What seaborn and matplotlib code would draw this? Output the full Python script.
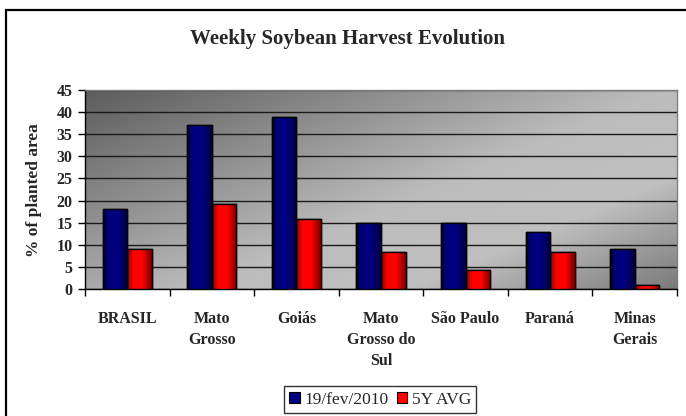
import numpy as np
import pandas as pd
import matplotlib
matplotlib.use("Agg")
import matplotlib.pyplot as plt
import seaborn as sns
from matplotlib.patches import Rectangle

categories = ["BRASIL", "Mato\nGrosso", "Goiás", "Mato\nGrosso do\nSul", "São Paulo", "Paraná", "Minas\nGerais"]
series_names = ["19/fev/2010", "5Y AVG"]
current = [18, 37, 39, 15, 15, 13, 9]
avg5y = [9, 19.2, 15.8, 8.3, 4.2, 8.3, 0.8]
yticks = [0, 5, 10, 15, 20, 25, 30, 35, 40, 45]

df = pd.DataFrame({
    "region": categories * 2,
    "series": [series_names[0]] * len(categories) + [series_names[1]] * len(categories),
    "value": current + avg5y,
})

sns.set_theme(style="white")
plt.rcParams["font.family"] = ["Liberation Serif", "DejaVu Serif"]
plt.rcParams["font.weight"] = "bold"

fig = plt.figure(figsize=(6.86, 4.16), dpi=100)
ax = fig.add_axes([85 / 686, 1 - 289 / 416, (677 - 85) / 686, (289 - 90) / 416])

# outer chart border (only left/top visible in frame)
fig.patches.append(Rectangle((6 / 686, -0.1), 1.2, 1.1 - 10 / 416,
                             transform=fig.transFigure, fill=False,
                             edgecolor="black", linewidth=1.6, zorder=0))

# gradient background of plot area
n = 200
xx, yy = np.meshgrid(np.linspace(0, 1, n), np.linspace(1, 0, n))
t = (xx * 1.0 + (1 - yy) * 0.8) / 1.8
vals = np.interp(t, [0, 0.55, 0.75, 1.0], [0.36, 0.74, 0.75, 0.48])
rgb = np.dstack([vals, vals, vals])
ax.imshow(rgb, extent=[0, 1, 0, 1], transform=ax.transAxes, aspect="auto", zorder=0)

palette = {series_names[0]: "#000080", series_names[1]: "#ff0000"}
sns.barplot(data=df, x="region", y="value", hue="series", palette=palette,
            width=0.58, edgecolor="black", linewidth=1.0, saturation=1,
            ax=ax, zorder=3, legend=True)

# horizontal shading of bars
prof_x = np.linspace(0, 1, 64)
shade = np.interp(prof_x, [0, 0.25, 0.6, 1.0], [0.55, 1.0, 1.0, 0.45])
for cont, base in zip(ax.containers, ["#000080", "#ff0000"]):
    c = np.array(matplotlib.colors.to_rgb(base))
    img = (shade[None, :, None] * c[None, None, :])
    for p in cont.patches:
        x0, y0 = p.get_x(), p.get_y()
        w, h = p.get_width(), p.get_height()
        if h <= 0:
            continue
        im = ax.imshow(img, extent=[x0, x0 + w, y0, y0 + h], aspect="auto", zorder=3.5)
        im.set_clip_path(p)
        ax.add_patch(Rectangle((x0, y0), w, h, fill=False, edgecolor="black", linewidth=1.0, zorder=4))

ax.set_xlim(-0.5, len(categories) - 0.5)
ax.set_ylim(0, 45)
ax.set_yticks(yticks)
ax.set_yticklabels([str(v) for v in yticks], fontsize=11.5, fontweight="bold")
ax.yaxis.grid(True, color="#1a1a1a", linewidth=1.0, zorder=1)
ax.set_axisbelow(True)
for gl in ax.get_ygridlines():
    gl.set_zorder(1)

# x ticks at category boundaries, labels at centers
ax.set_xticks(np.arange(len(categories) + 1) - 0.5, minor=False)
ax.set_xticklabels([])
ax.set_xticks(np.arange(len(categories)), minor=True)
ax.set_xticklabels(categories, minor=True, fontsize=11.5, fontweight="bold", va="top", linespacing=1.42)
ax.tick_params(axis="x", which="minor", length=0, pad=16)
ax.tick_params(axis="x", which="major", length=5, width=1, color="black", direction="out", bottom=True)
ax.tick_params(axis="y", length=5, width=1, color="black", direction="out", left=True, pad=4)
ax.set_xlabel("")
ax.set_ylabel("% of planted area", fontsize=12.5, fontweight="bold")
ax.yaxis.set_label_coords((42 - 85) / 592, 0.5 + (289 - 190 - 99.5) / 199)

for s in ["left", "bottom"]:
    ax.spines[s].set_color("black")
    ax.spines[s].set_linewidth(1.0)
for s in ["top", "right"]:
    ax.spines[s].set_color("#7f7f7f")
    ax.spines[s].set_linewidth(1.0)

fig.text(348 / 686, 1 - 39 / 416, "Weekly Soybean Harvest Evolution", ha="center", va="center",
         fontsize=15, fontweight="bold")

leg = ax.legend(loc="center", bbox_to_anchor=(380 / 686, 1 - 399.5 / 416), bbox_transform=fig.transFigure,
                ncol=2, frameon=True, fancybox=False, edgecolor="black", fontsize=12.5,
                handlelength=0.6, handleheight=0.6, handletextpad=0.25, columnspacing=0.5,
                borderpad=0.3, title=None)
leg.get_frame().set_linewidth(1.0)
for h in leg.legend_handles:
    h.set_edgecolor("black")
    h.set_linewidth(0.8)
for txt in leg.get_texts():
    txt.set_fontweight("normal")

fig.savefig("out.png", dpi=100, facecolor="white")
